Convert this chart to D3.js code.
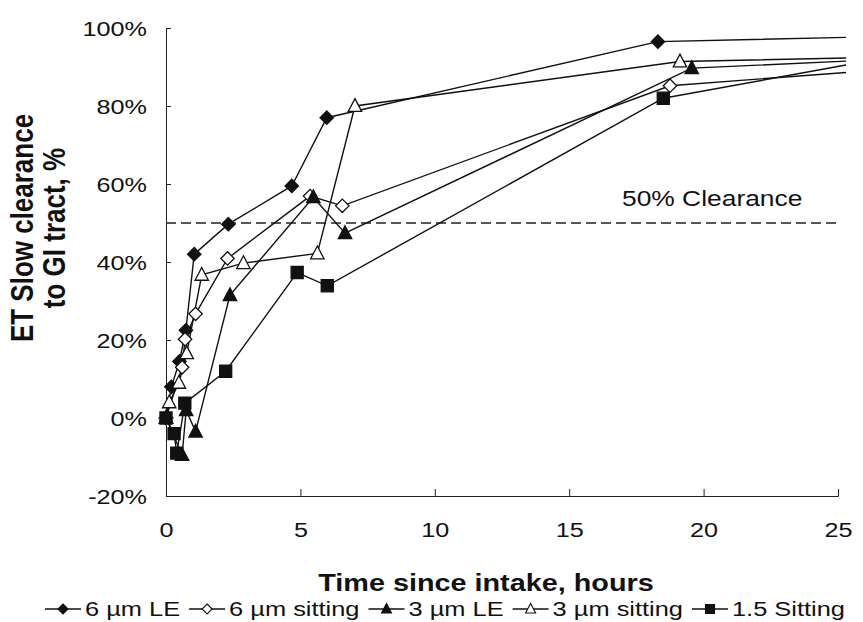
<!DOCTYPE html>
<html>
<head>
<meta charset="utf-8">
<script src="https://cdn.jsdelivr.net/npm/d3@7"></script>
<style>
  body { margin: 0; background: #fff; }
  text { font-family: "Liberation Sans", Arial, sans-serif; fill: #111; }
</style>
</head>
<body>
<div id="chart"></div>
<script>
// series names, in legend order
var seriesNames = ["6 µm LE", "6 µm sitting", "3 µm LE", "3 µm sitting", "1.5 Sitting"];

// hours since intake and % cleared
var le6Hours = [0, 0.2, 0.5, 0.74, 1.05, 2.32, 4.68, 5.98, 18.3, 25.3];
var le6Pct   = [0, 8, 14.5, 22.5, 42, 49.7, 59.5, 77, 96.5, 97.6];

var sit6Hours = [0, 0.6, 0.71, 1.1, 2.29, 5.36, 6.56, 18.75, 25.3];
var sit6Pct   = [0, 13, 20.2, 26.7, 40.9, 56.9, 54.4, 85.2, 88.6];

var le3Hours = [0, 0.6, 0.75, 1.1, 2.38, 5.48, 6.66, 19.56, 25.3];
var le3Pct   = [0, -9.5, 2, -3.5, 31.5, 56.6, 47.4, 89.7, 91.5];

var sit3Hours = [0, 0.12, 0.48, 0.77, 1.33, 2.88, 5.63, 7.03, 19.12, 25.3];
var sit3Pct   = [0, 4, 9, 16.6, 36.7, 39.7, 42.2, 80, 91.4, 92.3];

var sit15Hours = [0, 0.3, 0.4, 0.7, 2.22, 4.88, 6.0, 18.5, 25.3];
var sit15Pct   = [0, -4, -9, 3.8, 12, 37.3, 33.9, 82, 90.5];

// axis ticks and reference line
var xTicks = [0, 5, 10, 15, 20, 25];
var yTicks = [-20, 0, 20, 40, 60, 80, 100];
var clearanceLevel = 50;

var symbolKinds = ["diamond", "diamond", "triangle", "triangle", "square"];
var symbolFilled = [true, false, true, false, true];

function draw_chart() {
  var width = 863, height = 622;
  var margin = {top: 28, right: 25, bottom: 126, left: 166};
  var stretch = 1.2; // the figure text is a bit wide

  var svg = d3.select("#chart").append("svg")
    .attr("width", width)
    .attr("height", height);

  var xScale = d3.scaleLinear().domain([0, 25]).range([margin.left, width - margin.right]);
  var yScale = d3.scaleLinear().domain([-20, 100]).range([height - margin.bottom, margin.top]);

  // widen a text element around its own anchor
  function widen(sel, s) {
    sel.each(function() {
      var t = d3.select(this);
      var x = +t.attr("x") || 0, y = +t.attr("y") || 0;
      t.attr("transform", "translate(" + x + "," + y + ") scale(" + s + ",1) translate(" + (-x) + "," + (-y) + ")");
    });
  }

  // Build the nested dataset
  var allHours = [le6Hours, sit6Hours, le3Hours, sit3Hours, sit15Hours];
  var allPct = [le6Pct, sit6Pct, le3Pct, sit3Pct, sit15Pct];
  var data = seriesNames.map(function(name, i) {
    return {
      key: name,
      kind: symbolKinds[i],
      filled: symbolFilled[i],
      values: allHours[i].map(function(h, j) { return {hours: h, pct: allPct[i][j]}; })
    };
  });

  // y axis, ticks pointing inside
  var yAxis = svg.append("g")
    .attr("transform", "translate(" + margin.left + ",0)")
    .call(d3.axisLeft(yScale).tickValues(yTicks).tickSize(-5).tickPadding(0)
      .tickFormat(function(d) { return d + "%"; }));
  yAxis.select(".domain").attr("stroke", "#222");
  yAxis.selectAll(".tick line").attr("stroke", "#222");
  yAxis.selectAll(".tick text")
    .attr("x", -19)
    .attr("dy", "0.35em")
    .style("font-size", "21px")
    .call(widen, stretch);

  // x axis
  var xAxis = svg.append("g")
    .attr("transform", "translate(0," + (height - margin.bottom) + ")")
    .call(d3.axisBottom(xScale).tickValues(xTicks).tickSize(-7).tickPadding(0));
  xAxis.select(".domain").attr("stroke", "#222");
  xAxis.selectAll(".tick line").attr("stroke", "#222");
  xAxis.selectAll(".tick text")
    .attr("y", 41)
    .attr("dy", 0)
    .style("font-size", "21px")
    .call(widen, stretch);

  // 50% clearance reference line
  svg.append("line")
    .attr("x1", xScale(0)).attr("x2", xScale(25))
    .attr("y1", yScale(clearanceLevel)).attr("y2", yScale(clearanceLevel))
    .attr("stroke", "#222")
    .attr("stroke-width", 1.3)
    .attr("stroke-dasharray", "10,5");

  svg.append("text")
    .attr("x", 622).attr("y", yScale(clearanceLevel) - 17)
    .style("font-size", "22px")
    .text("50% Clearance")
    .call(widen, stretch);

  // lines
  var line = d3.line()
    .x(function(d) { return xScale(d.hours); })
    .y(function(d) { return yScale(d.pct); });

  svg.append("g").selectAll("path")
    .data(data)
    .enter().append("path")
    .attr("d", function(d) { return line(d.values); })
    .attr("fill", "none")
    .attr("stroke", "#111")
    .attr("stroke-width", 1.4);

  // markers, only inside the axis range
  function symbolPath(kind, r) {
    if (kind == "diamond") return "M0," + (-r) + "L" + r + ",0L0," + r + "L" + (-r) + ",0Z";
    if (kind == "triangle") return "M0," + (-r * 1.1) + "L" + r + "," + (r * 0.8) + "L" + (-r) + "," + (r * 0.8) + "Z";
    return "M" + (-r * 0.9) + "," + (-r * 0.9) + "h" + (r * 1.8) + "v" + (r * 1.8) + "h" + (-r * 1.8) + "Z";
  }

  data.forEach(function(s) {
    svg.append("g").selectAll("path")
      .data(s.values.filter(function(d) { return d.hours <= 25; }))
      .enter().append("path")
      .attr("transform", function(d) { return "translate(" + xScale(d.hours) + "," + yScale(d.pct) + ")"; })
      .attr("d", symbolPath(s.kind, 6.7))
      .attr("fill", s.filled ? "#111" : "#fff")
      .attr("stroke", "#111")
      .attr("stroke-width", 1.3);
  });

  // axis titles
  svg.append("text")
    .attr("x", 486).attr("y", 591)
    .attr("text-anchor", "middle")
    .style("font-size", "24px").style("font-weight", "bold")
    .text("Time since intake, hours")
    .call(widen, stretch);

  var yTitle = ["ET Slow clearance", "to GI tract, %"];
  svg.selectAll(".ytitle")
    .data(yTitle)
    .enter().append("text")
    .attr("class", "ytitle")
    .attr("text-anchor", "middle")
    .attr("transform", function(d, i) {
      return "translate(" + (i == 0 ? 33 : 65) + ",228) scale(" + stretch + ",1) rotate(-90)";
    })
    .style("font-size", "26px").style("font-weight", "bold")
    .text(function(d) { return d; });

  // legend along the bottom
  var legend = svg.append("g");
  var lx = 45, ly = 609, lstretch = 1.27;
  data.forEach(function(s) {
    legend.append("line")
      .attr("x1", lx).attr("x2", lx + 36)
      .attr("y1", ly).attr("y2", ly)
      .attr("stroke", "#111").attr("stroke-width", 1.4);
    legend.append("path")
      .attr("transform", "translate(" + (lx + 18) + "," + ly + ")")
      .attr("d", symbolPath(s.kind, 5))
      .attr("fill", s.filled ? "#111" : "#fff")
      .attr("stroke", "#111").attr("stroke-width", 1.1);
    var t = legend.append("text")
      .attr("x", lx + 40).attr("y", ly + 7)
      .style("font-size", "20px")
      .text(s.key);
    var w = t.node().getComputedTextLength() * lstretch;
    t.call(widen, lstretch);
    lx = lx + 40 + w + 9;
  });
}

draw_chart();
</script>
</body>
</html>
